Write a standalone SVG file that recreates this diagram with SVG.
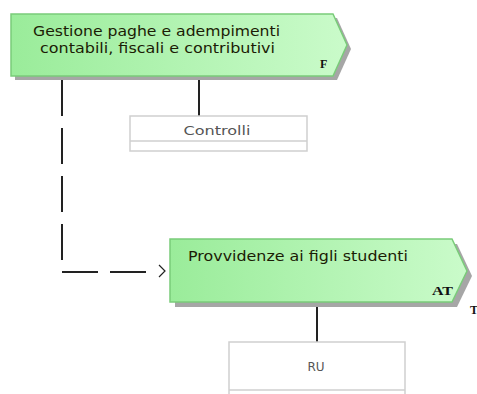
<svg xmlns="http://www.w3.org/2000/svg" width="477" height="394" viewBox="0 0 477 394">
<defs>
<linearGradient id="g" x1="0" y1="0" x2="1" y2="0">
<stop offset="0" stop-color="#9aec9a"/>
<stop offset="1" stop-color="#cafbca"/>
</linearGradient>
<style>
.body{fill:url(#g);stroke:#7acc7a;stroke-width:1.5}
.shadow{fill:#a6a6a6}
.title{font-family:"DejaVu Sans",Verdana,sans-serif;font-size:13.5px;fill:#1c1c05}
.tag{font-family:"Liberation Serif",serif;font-weight:bold;font-size:12px;fill:#111}
.box{fill:#fff;stroke:#cfcfcf;stroke-width:1.5}
.lbl{font-family:"DejaVu Sans",Verdana,sans-serif;font-size:12px;fill:#555;text-anchor:middle}
.conn{stroke:#222;stroke-width:2;fill:none}
</style>
</defs>
<g id="connectors">
<path class="conn" d="M62,80 V272 H148" stroke-dasharray="36,12"/>
<polyline points="159,265 165,271 159,277" fill="none" stroke="#222" stroke-width="1.2"/>
<line class="conn" x1="199" y1="80" x2="199" y2="116"/>
<line class="conn" x1="317" y1="307" x2="317" y2="342"/>
</g>
<g id="node-gestione">
<polygon class="shadow" points="15,18 337,18 351,49 337,80 15,80"/>
<polygon class="body" points="11,14 333,14 347,45 333,76 11,76"/>
<text class="title" x="33" y="36" textLength="247" lengthAdjust="spacingAndGlyphs">Gestione paghe e adempimenti</text>
<text class="title" x="40" y="53" textLength="235" lengthAdjust="spacingAndGlyphs">contabili, fiscali e contributivi</text>
<text class="tag" x="320" y="68">F</text>
</g>
<g id="node-controlli">
<rect class="box" x="130" y="116" width="177" height="35"/>
<line x1="130" y1="141" x2="307" y2="141" stroke="#cfcfcf" stroke-width="1.5"/>
<text class="lbl" x="217" y="135" textLength="67" lengthAdjust="spacingAndGlyphs">Controlli</text>
</g>
<g id="node-provvidenze">
<polygon class="shadow" points="175,244 457,244 472,276 457,307 175,307"/>
<polygon class="body" points="170,239 452,239 467,271 452,302 170,302"/>
<text class="title" x="188" y="261" textLength="220" lengthAdjust="spacingAndGlyphs">Provvidenze ai figli studenti</text>
<text class="tag" x="432" y="295" textLength="21" lengthAdjust="spacingAndGlyphs">AT</text>
<text class="tag" x="470" y="314">T</text>
</g>
<g id="node-ru">
<rect class="box" x="229" y="342" width="176" height="60"/>
<line x1="229" y1="390" x2="405" y2="390" stroke="#cfcfcf" stroke-width="1.5"/>
<text class="lbl" x="316" y="371">RU</text>
</g>
</svg>
